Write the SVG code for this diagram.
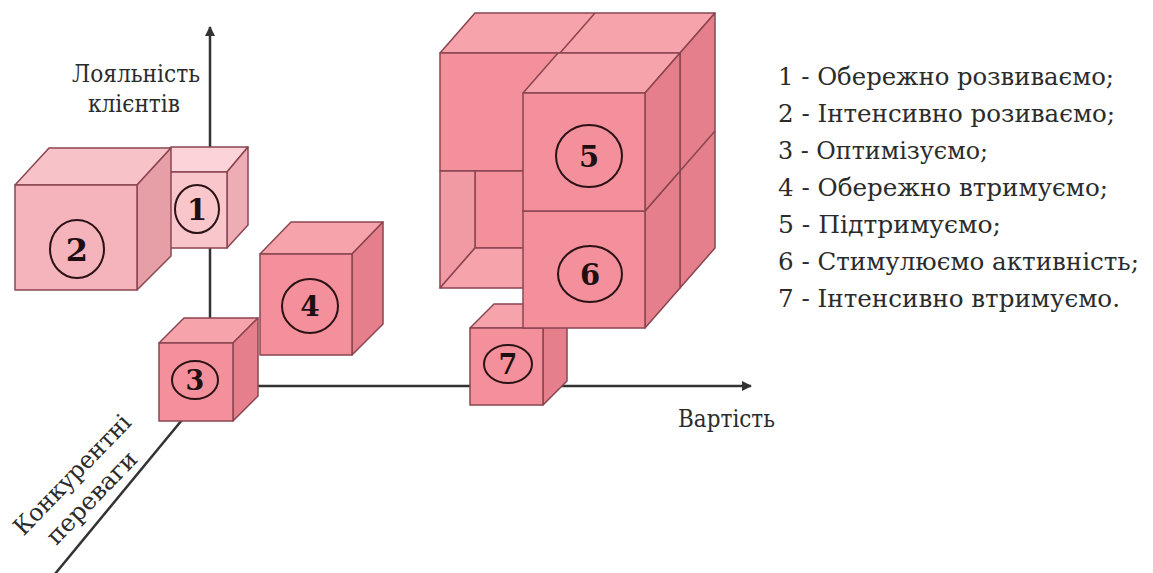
<svg xmlns="http://www.w3.org/2000/svg" width="1153" height="573" viewBox="0 0 1153 573">
<style>
  .e{stroke:#8a4550;stroke-width:1.5;stroke-linejoin:round}
  .sf{fill:#f3909b}.st{fill:#f6a3ac}.sr{fill:#e47f8b}
  .mf{fill:#f5b3bb}.mt{fill:#f7c2c8}.mr{fill:#e69ea7}
  .lf{fill:#f9c6cc}.lt{fill:#fbd3d8}.lr{fill:#eeacb4}
  .ring{fill:none;stroke:#2a1216;stroke-width:2}
  .num{font-family:'DejaVu Serif','Liberation Serif',serif;font-weight:bold;fill:#1e1012;text-anchor:middle}
  .lbl{font-family:'DejaVu Serif','Liberation Serif',serif;fill:#2b2b2b}
  .ax{stroke:#333;stroke-width:2.5;fill:none}
  .ln{stroke:#8a4550;stroke-width:1.5;fill:none}
</style>
<defs>
  <marker id="arr" viewBox="0 0 10 10" refX="9" refY="5" markerWidth="4" markerHeight="4" orient="auto" markerUnits="strokeWidth">
    <path d="M0,0 L10,5 L0,10 z" fill="#333"/>
  </marker>
</defs>
<rect width="1153" height="573" fill="#ffffff"/>

<g id="axes">
  <line class="ax" x1="210" y1="386" x2="210" y2="27" marker-end="url(#arr)"/>
  <line class="ax" x1="210" y1="386" x2="751" y2="386" marker-end="url(#arr)"/>
  <line class="ax" x1="210" y1="386" x2="50" y2="580"/>
</g>

<g id="axis-labels">
  <text class="lbl" font-size="25" text-anchor="middle" x="136" y="82" textLength="128" lengthAdjust="spacingAndGlyphs">Лояльність</text>
  <text class="lbl" font-size="25" text-anchor="middle" x="134" y="112" textLength="92" lengthAdjust="spacingAndGlyphs">клієнтів</text>
  <text class="lbl" font-size="25" x="678" y="427" textLength="97" lengthAdjust="spacingAndGlyphs">Вартість</text>
  <g transform="translate(71.5,474) rotate(-46)">
    <text class="lbl" font-size="24" text-anchor="middle" x="0" y="9" textLength="157" lengthAdjust="spacingAndGlyphs">Конкурентні</text>
    <text class="lbl" font-size="24" text-anchor="middle" x="-3" y="39" textLength="119" lengthAdjust="spacingAndGlyphs">переваги</text>
  </g>
</g>

<g id="node-1">
  <polygon class="e lt" points="150,172 171,147 248,147 227,172"/>
  <polygon class="e lr" points="227,172 248,147 248,225 227,248"/>
  <rect class="e lf" x="150" y="172" width="77" height="76"/>
  <ellipse class="ring" cx="197" cy="209" rx="22" ry="24"/>
  <text class="num" x="197" y="220" font-size="29">1</text>
</g>

<g id="node-2">
  <polygon class="e mt" points="15,185 49,148 171,148 137,185"/>
  <polygon class="e mr" points="137,185 171,148 171,256 137,290"/>
  <rect class="e mf" x="15" y="185" width="122" height="105"/>
  <ellipse class="ring" cx="77" cy="249" rx="27" ry="29"/>
  <text class="num" x="77" y="261" font-size="32">2</text>
</g>

<g id="node-4">
  <polygon class="e st" points="260,254 291,222 383,222 352,254"/>
  <polygon class="e sr" points="352,254 383,222 383,324 352,355"/>
  <rect class="e sf" x="260" y="254" width="92" height="101"/>
  <ellipse class="ring" cx="310" cy="306" rx="28" ry="27"/>
  <text class="num" x="310" y="316" font-size="28">4</text>
</g>

<g id="node-3">
  <polygon class="e st" points="159,343 184,318 258,318 233,343"/>
  <polygon class="e sr" points="233,343 258,318 258,396 233,421"/>
  <rect class="e sf" x="159" y="343" width="74" height="78"/>
  <ellipse class="ring" cx="195" cy="380" rx="23" ry="19"/>
  <text class="num" x="195" y="390" font-size="27">3</text>
</g>

<g id="block">
  <polygon class="e st" points="440,53 475,13 715,13 680,53"/>
  <line class="ln" x1="560" y1="53" x2="595" y2="13"/>
  <polygon class="e sr" points="680,53 715,13 715,248 680,288"/>
  <line class="ln" x1="680" y1="171" x2="715" y2="131"/>
  <rect class="e sf" x="440" y="53" width="120" height="118"/>
  <polygon class="e sf" points="475,171 600,171 600,248 475,248"/>
  <polygon class="e" fill="#f29aa4" points="440,171 475,171 475,248 440,288"/>
  <polygon class="e st" points="440,288 475,248 600,248 565,288"/>
</g>

<g id="node-7">
  <polygon class="e st" points="470,328 494,304 567,304 543,328"/>
  <polygon class="e sr" points="543,328 567,304 567,381 543,405"/>
  <rect class="e sf" x="470" y="328" width="73" height="77"/>
  <ellipse class="ring" cx="508" cy="364" rx="24" ry="19"/>
  <text class="num" x="508" y="374" font-size="27">7</text>
</g>

<g id="node-6">
  <polygon class="e sr" points="645,211 680,171 680,288 645,328"/>
  <rect class="e sf" x="523" y="211" width="122" height="117"/>
  <ellipse class="ring" cx="590" cy="274" rx="32" ry="28"/>
  <text class="num" x="590" y="285" font-size="29">6</text>
</g>

<g id="node-5">
  <polygon class="e st" points="523,93 558,53 680,53 645,93"/>
  <polygon class="e sr" points="645,93 680,53 680,171 645,211"/>
  <rect class="e sf" x="523" y="93" width="122" height="118"/>
  <ellipse class="ring" cx="589" cy="156" rx="33" ry="31"/>
  <text class="num" x="589" y="167" font-size="29">5</text>
</g>

<g id="legend">
  <text class="lbl" font-size="24" x="778" y="85" textLength="336" lengthAdjust="spacingAndGlyphs">1 - Обережно розвиваємо;</text>
  <text class="lbl" font-size="24" x="778" y="122" textLength="337" lengthAdjust="spacingAndGlyphs">2 - Інтенсивно розиваємо;</text>
  <text class="lbl" font-size="24" x="778" y="159" textLength="210" lengthAdjust="spacingAndGlyphs">3 - Оптимізуємо;</text>
  <text class="lbl" font-size="24" x="778" y="196" textLength="330" lengthAdjust="spacingAndGlyphs">4 - Обережно втримуємо;</text>
  <text class="lbl" font-size="24" x="778" y="233" textLength="223" lengthAdjust="spacingAndGlyphs">5 - Підтримуємо;</text>
  <text class="lbl" font-size="24" x="778" y="270" textLength="361" lengthAdjust="spacingAndGlyphs">6 - Стимулюємо активність;</text>
  <text class="lbl" font-size="24" x="778" y="307" textLength="342" lengthAdjust="spacingAndGlyphs">7 - Інтенсивно втримуємо.</text>
</g>
</svg>
